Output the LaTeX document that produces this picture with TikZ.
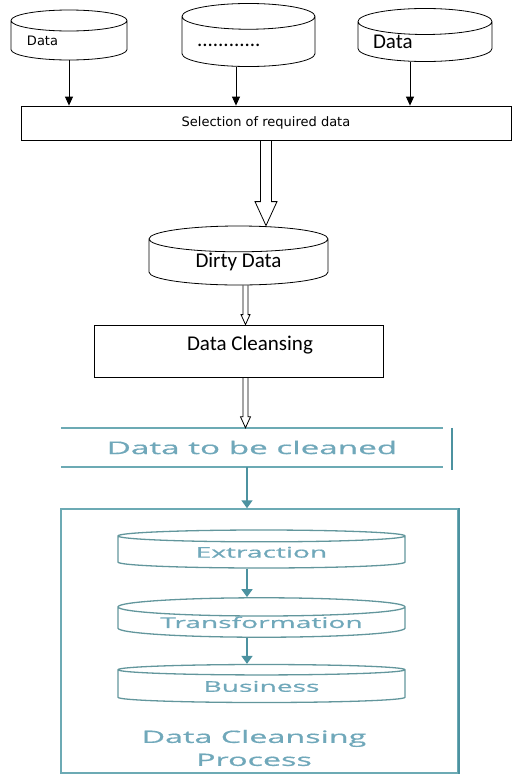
\documentclass[tikz,border=0pt]{standalone}
\usepackage{fontspec}
\setmainfont{Carlito}
\newfontfamily\pixfont{DejaVu Sans}
\newfontfamily\tealfont[FakeBold=0.6]{Open Sans}
\usepackage{graphicx}
\usetikzlibrary{positioning, arrows.meta, shapes.geometric, calc}
\definecolor{tealline}{RGB}{108,170,180}
\definecolor{tealdark}{RGB}{76,146,160}
\definecolor{tealtext}{RGB}{112,168,186}
\definecolor{tealcyl}{RGB}{98,150,156}
\newcommand{\wide}[1]{\scalebox{1.9}[1]{#1}}

\begin{document}
\begin{tikzpicture}[x=1pt, y=-1pt,
    store/.style={cylinder, shape border rotate=90, draw, line width=0.8pt,
                  aspect=0.25, inner sep=0pt, anchor=shape center},
    stepbox/.style={rectangle, draw, line width=0.8pt, inner sep=0pt},
    arr/.style={-{Triangle[length=9pt, width=8pt]}, line width=0.8pt},
    hollow/.style n args={3}{line width=0.8pt, to path={
        let \p1=(\tikztostart), \p2=(\tikztotarget) in
        (\x1-#1,\y1) -- (\x1-#1,\y2+#3) -- (\x1-#2,\y2+#3) -- (\x1,\y2)
        -- (\x1+#2,\y2+#3) -- (\x1+#1,\y2+#3) -- (\x1+#1,\y1)}},
    tealstore/.style={store, draw=tealcyl, line width=1.3pt, aspect=0.09,
                      minimum width=287pt, minimum height=38pt},
    tealtxt/.style={font=\tealfont\fontsize{14.8}{16}\selectfont, text=tealtext},
    tealarr/.style={-{Triangle[length=8pt, width=11pt]}, draw=tealdark, line width=1.8pt},
]
\useasboundingbox (0,0) rectangle (513,777);

% --- sources and selection ---
\node[store, minimum width=116pt, minimum height=50pt, text width=84pt, align=left,
      font=\pixfont\fontsize{13}{15}\selectfont] (src1) at (69,35) {Data};
\node[store, minimum width=133pt, minimum height=50pt, text width=103pt, align=left,
      font=\fontsize{21}{24}\selectfont] (src2) at (248.5,35) {\strut............};
\node[store, minimum width=134pt, minimum height=50pt, text width=104pt, align=left,
      font=\fontsize{21}{24}\selectfont] (src3) at (425,35) {Data};

\node[stepbox, minimum width=490pt, minimum height=34pt,
      font=\pixfont\fontsize{13}{15}\selectfont] (sel) at (266,123) {Selection of required data};

\draw[arr] (src1.south) -- (src1.south |- sel.north);
\draw[arr] ([xshift=-12.5pt]src2.south) -- ([xshift=-12.5pt]src2.south |- sel.north);
\draw[arr] ([xshift=-15pt]src3.south) -- ([xshift=-15pt]src3.south |- sel.north);

% --- dirty data and cleansing ---
\node[store, aspect=0.3, minimum width=179pt, minimum height=59pt, font=\fontsize{21}{24}\selectfont]
    (dirty) at (238.5,255.5) {Dirty Data};
\node[stepbox, minimum width=289pt, minimum height=52pt] (clean) at (238.5,351) {};
\node[font=\fontsize{21}{24}\selectfont] (cleantxt) at (250,345) {Data Cleansing};

\coordinate (smallaxis) at (245.5,300);
\draw[hollow={5.5pt}{11pt}{24pt}] (sel.south) to (dirty.north);
\draw[hollow={2.5pt}{4.5pt}{10pt}] (dirty.south -| smallaxis) to (clean.north -| smallaxis);

% --- teal cleansing process ---
\node[rectangle, minimum width=382pt, minimum height=39pt, inner sep=0pt,
      tealtxt, font=\tealfont\fontsize{17.5}{19}\selectfont] (tbc) at (252,447.5) {\wide{Data to be cleaned}};
\draw[tealline, line width=1.5pt] (tbc.north west) -- (tbc.north east)
                                  (tbc.south west) -- (tbc.south east);
\draw[tealdark, line width=2.5pt] ([xshift=9pt]tbc.north east) -- ([xshift=9pt,yshift=-3pt]tbc.south east);
\draw[hollow={2.5pt}{5pt}{11pt}] (clean.south -| smallaxis) to (tbc.north -| smallaxis);

\node[rectangle, draw=tealline, line width=1.5pt, minimum width=397pt, minimum height=264pt,
      inner sep=0pt] (proc) at (259.5,641) {};
\draw[tealdark, line width=2.5pt] (proc.north east) -- (proc.south east);

\node[tealstore, tealtxt] (ext) at (261.5,549) {\wide{Extraction}};
\node[tealstore, tealtxt] (trans) at (261.5,617.5) {\wide{Transformation}};
\node[tealstore, tealtxt] (bus) at (261.5,683.5) {\wide{Business}};
\node[tealtxt, font=\tealfont\fontsize{17}{23}\selectfont, align=center]
    (proclabel) at (254,748) {\wide{Data Cleansing}\\\wide{Process}};

\coordinate (tealaxis) at (247,500);
\draw[tealarr] (tbc.south -| tealaxis) -- (proc.north -| tealaxis);
\draw[tealarr] (ext.south -| tealaxis) -- (trans.north -| tealaxis);
\draw[tealarr] (trans.south -| tealaxis) -- (bus.north -| tealaxis);
\end{tikzpicture}
\end{document}
